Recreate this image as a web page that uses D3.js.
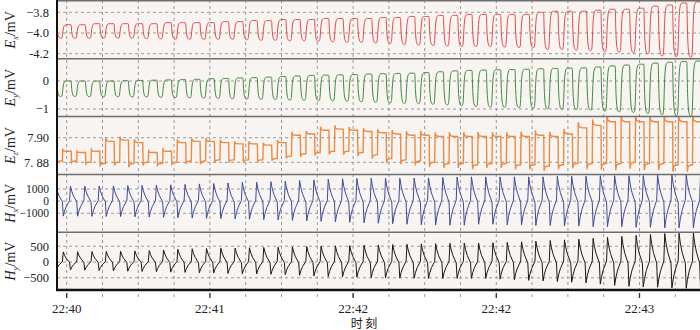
<!DOCTYPE html>
<html>
<head>
<meta charset="utf-8">
<script src="https://cdn.jsdelivr.net/npm/d3@7"></script>
<style>
  body { margin: 0; background: #fff; }
  text { font-family: "Liberation Serif", "Times New Roman", serif; fill: #222; }
</style>
</head>
<body>
<div id="chart"></div>
<script>
var width = 700, height = 330;

// seconds after the first time tick; one entry per 4 s cycle (E rising edge)
const cycleStart = [-5.2, -1.2, 2.8, 6.8, 10.8, 14.8, 18.8, 22.8, 26.8, 30.8,
    34.8, 38.8, 42.8, 46.8, 50.8, 54.8, 58.8, 62.8, 66.8, 70.8,
    74.8, 78.8, 82.8, 86.8, 90.8, 94.8, 98.8, 102.8, 106.8, 110.8,
    114.8, 118.8, 122.8, 126.8, 130.8, 134.8, 138.8, 142.8, 146.8, 150.8,
    154.8, 158.8, 162.8, 166.8, 170.8, 174.8];

const exHigh = [-3.92, -3.92, -3.92, -3.91, -3.91, -3.91, -3.91, -3.91, -3.90, -3.90,
    -3.90, -3.90, -3.89, -3.89, -3.88, -3.88, -3.87, -3.87, -3.87, -3.86,
    -3.86, -3.86, -3.86, -3.85, -3.85, -3.84, -3.84, -3.83, -3.83, -3.82,
    -3.82, -3.82, -3.82, -3.82, -3.80, -3.79, -3.79, -3.79, -3.78, -3.77,
    -3.77, -3.76, -3.74, -3.73, -3.71, -3.70];
const exLow = [-4.05, -4.05, -4.05, -4.05, -4.05, -4.05, -4.055, -4.055, -4.06, -4.06,
    -4.06, -4.06, -4.06, -4.065, -4.07, -4.07, -4.075, -4.075, -4.08, -4.085,
    -4.09, -4.09, -4.095, -4.10, -4.11, -4.115, -4.12, -4.125, -4.13, -4.13,
    -4.13, -4.135, -4.14, -4.14, -4.16, -4.16, -4.165, -4.17, -4.18, -4.185,
    -4.19, -4.20, -4.22, -4.225, -4.235, -4.24];

const eyHigh = [0.0, 0.0, 0.0, 0.0, 0.0, 0.01, 0.02, 0.03, 0.04, 0.05,
    0.06, 0.08, 0.09, 0.11, 0.12, 0.14, 0.16, 0.18, 0.20, 0.21,
    0.22, 0.23, 0.25, 0.26, 0.27, 0.28, 0.30, 0.33, 0.36, 0.38,
    0.39, 0.40, 0.41, 0.42, 0.44, 0.45, 0.46, 0.47, 0.50, 0.54,
    0.57, 0.60, 0.64, 0.67, 0.70, 0.71];
const eyLow = [-0.55, -0.55, -0.56, -0.56, -0.56, -0.57, -0.57, -0.58, -0.59, -0.60,
    -0.61, -0.62, -0.63, -0.64, -0.65, -0.66, -0.68, -0.69, -0.70, -0.71,
    -0.72, -0.74, -0.76, -0.78, -0.80, -0.81, -0.83, -0.85, -0.88, -0.91,
    -0.93, -0.94, -0.95, -0.97, -0.99, -1.01, -1.02, -1.04, -1.07, -1.10,
    -1.12, -1.16, -1.20, -1.23, -1.25, -1.26];

const ezHigh = [7.889, 7.889, 7.888, 7.889, 7.897, 7.898, 7.896, 7.888, 7.889, 7.896,
    7.897, 7.897, 7.896, 7.895, 7.895, 7.894, 7.896, 7.902, 7.903, 7.906,
    7.907, 7.906, 7.905, 7.904, 7.903, 7.902, 7.902, 7.901, 7.901, 7.901,
    7.901, 7.901, 7.901, 7.901, 7.902, 7.901, 7.903, 7.908, 7.910, 7.913,
    7.913, 7.913, 7.913, 7.913, 7.913, 7.913];
const ezLow = [7.881, 7.881, 7.880, 7.879, 7.880, 7.879, 7.880, 7.879, 7.880, 7.881,
    7.881, 7.882, 7.882, 7.882, 7.882, 7.883, 7.885, 7.887, 7.888, 7.889,
    7.889, 7.888, 7.886, 7.883, 7.882, 7.881, 7.880, 7.879, 7.879, 7.878,
    7.879, 7.879, 7.878, 7.878, 7.877, 7.878, 7.879, 7.879, 7.879, 7.879,
    7.880, 7.879, 7.879, 7.878, 7.878, 7.878];

const hxPeak = [1230, 1230, 1240, 1250, 1260, 1280, 1300, 1320, 1350, 1380,
    1420, 1460, 1500, 1540, 1570, 1600, 1650, 1700, 1750, 1800,
    1850, 1870, 1880, 1880, 1890, 1900, 1920, 1950, 1980, 2000,
    2000, 2000, 2000, 2000, 2000, 2050, 2050, 2050, 2100, 2100,
    2100, 2100, 2150, 2150, 2150, 2150];
const hxTrough = [-1230, -1230, -1240, -1250, -1260, -1270, -1290, -1310, -1330, -1360,
    -1390, -1420, -1440, -1460, -1490, -1520, -1550, -1580, -1620, -1660,
    -1700, -1740, -1780, -1820, -1860, -1900, -1940, -1970, -1980, -1980,
    -1900, -1900, -1950, -1950, -2000, -2000, -2050, -2050, -2100, -2100,
    -2100, -2150, -2150, -2200, -2200, -2200];

const hyPeak = [320, 320, 325, 330, 335, 340, 350, 360, 380, 400,
    420, 430, 435, 440, 450, 460, 470, 480, 490, 500,
    510, 520, 530, 540, 550, 560, 570, 580, 590, 600,
    600, 610, 620, 640, 660, 680, 700, 720, 750, 780,
    810, 840, 870, 900, 910, 920];
const hyTrough = [-250, -250, -260, -270, -280, -290, -300, -310, -320, -330,
    -340, -350, -360, -370, -380, -390, -400, -420, -440, -460,
    -470, -480, -490, -500, -510, -515, -520, -520, -520, -520,
    -520, -540, -560, -580, -600, -620, -640, -660, -700, -740,
    -770, -790, -800, -820, -830, -840];

const timeTicks = [0, 40, 80, 120, 160];
const timeTickLabels = ["22:40", "22:41", "22:42", "22:42", "22:43"];
const gridTimes = [0, 10, 20, 30, 40, 50, 60, 70, 80, 90, 100, 110, 120, 130, 140, 150, 160, 170];

const exTicks = [-3.8, -4.0, -4.2], exTickLabels = ["\u22123.8", "\u22124.0", "-4.2"];
const eyTicks = [0, -1], eyTickLabels = ["0", "\u22121"];
const ezTicks = [7.90, 7.88], ezTickLabels = ["7.90", "7. 88"];
const hxTicks = [1000, 0, -1000], hxTickLabels = ["1000", "0", "\u22121000"];
const hyTicks = [500, 0, -500], hyTickLabels = ["500", "0", "\u2212500"];

// waveform shape: [seconds after edge, share of the level step]
const period = 4, halfPeriod = 2;
const smoothEdge = [[0, 0], [0.25, 1], [1.2, 1]];
const hookEdge = [[0, 0], [0.1, 1.16], [0.35, 1.03], [1.2, 1]];
const eHighLen = 2.45;
// decay after a coil spike: [seconds after edge, fraction of the spike]
const decayShape = [[0.25, 1], [0.6, 0.66], [1.1, 0.34], [2, -0.04]];

const left = 57, right = 700;
const x = d3.scaleLinear().domain([0, 160]).range([66.7, 639.5]);

var svg = d3.select('#chart').append('svg')
    .attr('width', width)
    .attr('height', height);

// plot background
svg.append('rect')
    .attr('x', left).attr('y', 0)
    .attr('width', right - left).attr('height', 290)
    .attr('fill', '#f7f4f2');

function squareWave(high, low, edge) {
    let pts = [[cycleStart[0] - 2, low[0]], [cycleStart[0] - 1, low[0]]];
    cycleStart.forEach((t, i) => {
        let prevLow = i ? low[i - 1] : low[0];
        edge.forEach(s => pts.push([t + s[0], prevLow + (high[i] - prevLow) * s[1]]));
        pts.push([t + eHighLen, high[i]]);
        edge.forEach(s => pts.push([t + eHighLen + s[0], high[i] + (low[i] - high[i]) * s[1]]));
    });
    let last = cycleStart.length - 1;
    pts.push([cycleStart[last] + period, low[last]], [cycleStart[last] + period + 1, low[last]]);
    return pts;
}

// first spike at the cycle start, the opposite one half a period later
function pulseWave(first, second) {
    let pts = [[cycleStart[0] - 1, second[0] * decayShape[3][1]]];
    cycleStart.forEach((t, i) => {
        let prev = i ? second[i - 1] : second[0];
        pts.push([t, prev * decayShape[3][1]]);
        decayShape.forEach(s => pts.push([t + s[0], first[i] * s[1]]));
        decayShape.forEach(s => pts.push([t + halfPeriod + s[0], second[i] * s[1]]));
    });
    return pts;
}

const panels = [
    { id: 'ex', top: 1, bottom: 58.8, dom: [-4.2, -3.8], rng: [53.7, 12.3], ticks: exTicks, labels: exTickLabels,
      sub: 'x', color: '#e8474a', curve: d3.curveBasis, pts: squareWave(exHigh, exLow, smoothEdge) },
    { id: 'ey', top: 58.8, bottom: 116.6, dom: [-1, 0], rng: [109, 81], ticks: eyTicks, labels: eyTickLabels,
      sub: 'y', color: '#3f8a3c', curve: d3.curveBasis, pts: squareWave(eyHigh, eyLow, smoothEdge) },
    { id: 'ez', top: 116.6, bottom: 174.4, dom: [7.88, 7.90], rng: [162.3, 137.7], ticks: ezTicks, labels: ezTickLabels,
      sub: 'z', color: '#f08a3e', curve: d3.curveLinear, pts: squareWave(ezHigh, ezLow, hookEdge) },
    { id: 'hx', top: 174.4, bottom: 232.2, dom: [-1000, 1000], rng: [213.3, 189], ticks: hxTicks, labels: hxTickLabels,
      sub: 'x', color: '#3e4b9c', curve: d3.curveLinear, pts: pulseWave(hxTrough, hxPeak), letter: 'H' },
    { id: 'hy', top: 232.2, bottom: 290, dom: [-500, 500], rng: [277.8, 246.2], ticks: hyTicks, labels: hyTickLabels,
      sub: 'y', color: '#1a1a1a', curve: d3.curveLinear, pts: pulseWave(hyPeak, hyTrough), letter: 'H' }
];

// vertical grid, running a little below the bottom axis
svg.append('g')
    .selectAll('line')
    .data(gridTimes)
    .enter().append('line')
    .attr('x1', d => x(d)).attr('x2', d => x(d))
    .attr('y1', 0).attr('y2', 297)
    .attr('stroke', '#9a9a9a')
    .attr('stroke-width', 1)
    .attr('stroke-dasharray', '3,3');

panels.forEach(p => {
    let y = d3.scaleLinear().domain(p.dom).range(p.rng);

    svg.append('clipPath')
        .attr('id', 'clip-' + p.id)
        .append('rect')
        .attr('x', left).attr('y', p.top)
        .attr('width', right - left).attr('height', p.bottom - p.top);

    // horizontal grid
    svg.append('g')
        .selectAll('line')
        .data(p.ticks)
        .enter().append('line')
        .attr('x1', left).attr('x2', right)
        .attr('y1', d => y(d)).attr('y2', d => y(d))
        .attr('stroke', '#9a9a9a')
        .attr('stroke-dasharray', '3,3');

    // tick labels
    svg.append('g')
        .selectAll('text')
        .data(p.ticks)
        .enter().append('text')
        .attr('x', 49)
        .attr('y', d => y(d))
        .attr('dy', '0.35em')
        .attr('text-anchor', 'end')
        .style('font-size', p.id == 'hx' ? '11.5px' : '12.5px')
        .text((d, i) => p.labels[i]);

    let line = d3.line()
        .x(d => x(d[0]))
        .y(d => y(d[1]))
        .curve(p.curve);

    svg.append('path')
        .attr('clip-path', 'url(#clip-' + p.id + ')')
        .attr('d', line(p.pts))
        .attr('fill', 'none')
        .attr('stroke', p.color)
        .attr('stroke-width', p.id == 'ez' ? 1.4 : 1);

    // axis title, rotated
    let title = svg.append('text')
        .attr('transform', 'translate(15,' + (p.top + p.bottom) / 2 + ') rotate(-90)')
        .attr('text-anchor', 'middle')
        .style('font-size', '14px');
    title.append('tspan').style('font-style', 'italic').text(p.letter || 'E');
    title.append('tspan').style('font-style', 'italic').style('font-size', '9px').attr('dy', 3).text(p.sub);
    title.append('tspan').attr('dy', -3).text('/mV');

    // panel separator
    if (p.top > 1) {
        svg.append('line')
            .attr('x1', left).attr('x2', right)
            .attr('y1', p.top).attr('y2', p.top)
            .attr('stroke', '#6e6e6e')
            .attr('stroke-width', 1.5);
    }
});

// frame: top, left and bottom axes
svg.append('line')
    .attr('x1', left).attr('x2', right).attr('y1', 0.75).attr('y2', 0.75)
    .attr('stroke', '#6e6e6e').attr('stroke-width', 1.5);
svg.append('line')
    .attr('x1', left).attr('x2', left).attr('y1', 0).attr('y2', 291)
    .attr('stroke', '#111').attr('stroke-width', 2);
svg.append('line')
    .attr('x1', left - 1).attr('x2', right).attr('y1', 290).attr('y2', 290)
    .attr('stroke', '#111').attr('stroke-width', 2.5);

let xAxis = svg.append('g');
xAxis.selectAll('line')
    .data(timeTicks)
    .enter().append('line')
    .attr('x1', d => x(d)).attr('x2', d => x(d))
    .attr('y1', 293).attr('y2', 298)
    .attr('stroke', '#333').attr('stroke-width', 1.3);
xAxis.selectAll('text')
    .data(timeTicks)
    .enter().append('text')
    .attr('x', d => x(d))
    .attr('y', 313)
    .attr('text-anchor', 'middle')
    .style('font-size', '13px')
    .text((d, i) => timeTickLabels[i]);

svg.append('text')
    .attr('x', 364)
    .attr('y', 328)
    .attr('text-anchor', 'middle')
    .style('font-family', '"Noto Sans CJK SC", sans-serif')
    .style('font-size', '12px')
    .text('时 刻');
</script>
</body>
</html>
